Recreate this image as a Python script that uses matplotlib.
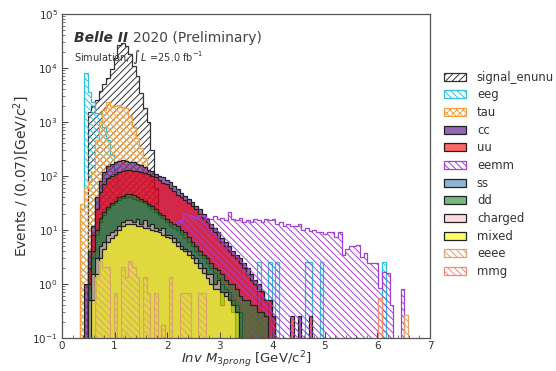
import numpy as np
import matplotlib
matplotlib.use("Agg")
import matplotlib.pyplot as plt
from matplotlib.colors import to_rgba
from matplotlib.ticker import AutoMinorLocator, LogLocator, NullFormatter

# binned 3-prong invariant mass, 100 bins of 0.07 GeV from 0 to 7
bin_width = 0.07
n_bins = 100

signal_start = 7
signal_vals = [1500, 2000, 2600, 3800, 5000, 6500, 9500, 15000, 27000, 29000,
               26000, 18000, 11000, 7000, 3500, 1800, 1000, 300, 60]

eeg_start = 5
eeg_vals = [25, 8000, 3600, 2300, 1450, 1450, 800, 470, 250, 120, 60, 30, 15, 8, 4, 2]
eeg_tail_mass = [3.74, 3.95, 4.09, 4.65, 4.72, 4.93, 6.12]
eeg_tail_w = [2.6, 2.6, 2.6, 2.6, 2.6, 2.6, 2.6]

tau_start = 5
tau_vals = [30, 60, 80, 120, 470, 1000, 1700, 2300, 2000, 2000, 2100, 1900, 1800,
            1300, 800, 500, 330, 220, 120, 60, 30, 12, 5, 2]

cc_start = 6
cc_vals = [1.0, 4, 12, 40, 80, 120, 150, 165, 180, 190, 195, 190, 185, 180, 170,
           160, 145, 130, 125, 110, 100, 95, 85, 78, 65, 58, 48, 42, 38, 33, 28,
           24, 20, 16, 13, 11, 9, 7, 6, 5, 4, 3.5, 3, 2.5, 2, 1.5, 1.2, 1.0, 0.75,
           0.5, 0.5, 0.25]
cc_tail_mass = [4.52]
cc_tail_w = [0.25]

uu_start = 7
uu_vals = [2, 8, 25, 50, 70, 90, 100, 110, 120, 125, 130, 130, 125, 125, 120, 115,
           110, 100, 95, 85, 75, 70, 60, 52, 45, 40, 36, 32, 28, 24, 20, 17, 14, 11,
           9, 7, 6, 5, 4, 3.5, 3, 2.5, 2, 1.5, 1.2, 1.0, 0.75, 0.75, 0.5, 0.5, 0.25]
uu_tail_mass = [4.37, 4.72]
uu_tail_w = [0.25, 0.25]

eemm_start = 20
eemm_vals = [2, 3, 4, 5, 6, 7, 8, 9, 10, 11, 12, 14, 15, 20, 19, 18, 17, 19, 18,
             17, 16, 18, 16, 17, 15, 22, 16, 15, 17, 14, 15, 14, 16, 15, 14, 16, 15,
             16, 13, 14, 12, 13, 12, 12, 13, 10, 11, 9.5, 10, 9, 9, 8.5, 9, 9, 7.5,
             9, 3.5, 4.5, 5, 5, 5.3, 3.2, 3.8, 2.5, 2.5, 2.5, 0.85, 1.7, 1.6, 0.4,
             0, 0, 0.8]

ss_start = 7
ss_vals = [0.8, 3, 8, 14, 19, 24, 29, 32, 36, 39, 41, 40, 38, 36, 34, 32, 28, 25,
           22, 19, 17, 14, 12, 11, 10, 8.5, 7, 6, 5, 4, 3.5, 3, 2.5, 2, 1.6, 1.3,
           1.0, 0.8, 0.7, 0.5, 0.4, 0.3]

dd_start = 7
dd_vals = [1, 4, 10, 17, 22, 27, 32, 35, 40, 42, 46, 47, 45, 40, 38, 35, 30, 28,
           24, 21, 19, 16, 14, 13, 12, 10, 9, 7.5, 6, 5, 4, 3.5, 3, 2.5, 2, 1.8,
           1.5, 1.2, 1.0, 1.0, 0.8, 0.6, 0.5, 0.5, 0.4, 0.4, 0.3, 0.3, 0.25]

charged_start = 7
charged_vals = [0.5, 1.5, 3, 5, 6, 8, 9, 10, 12, 14, 15, 15, 14, 16, 13, 15, 12,
                13, 11, 10, 11, 8, 8, 7, 6, 5, 4.5, 4, 3.5, 3, 2.5, 2, 1.5, 1.5,
                1.0, 1.2, 0.4, 0.7, 0.5, 0.3]

mixed_start = 8
mixed_vals = [0.5, 1.5, 3, 4.5, 6, 7, 8, 10, 12, 13, 13, 13, 12, 12, 11, 11, 10,
              9.5, 9, 8, 7.5, 7, 6, 5, 4.5, 4, 3.5, 3, 2.5, 2, 1.6, 1.3, 1.0, 0.8,
              0.8, 0.7, 0.6, 0.5, 0.4, 0.3]

eeee_start = 9
eeee_vals = [1.36, 2.72, 2.04, 2.04, 0, 0.68, 0, 2.04, 1.36, 2.72, 2.04, 1.36, 0,
             1.36, 0.68, 0, 0.68, 0, 0, 0, 1.36, 0, 0, 0.68, 0.68, 0.68, 0, 0,
             0.68, 0.68]
eeee_tail_mass = [6.55]
eeee_tail_w = [0.27]

mmg_mass = [1.93, 6.05]
mmg_w = [0.17, 0.55]

labels = ["signal_enunu", "eeg", "tau", "cc", "uu", "eemm", "ss", "dd",
          "charged", "mixed", "eeee", "mmg"]


def to_hist(start, vals, tail_mass=(), tail_w=()):
    h = np.zeros(n_bins)
    h[start:start + len(vals)] = vals
    for m, w in zip(tail_mass, tail_w):
        h[int(m / bin_width)] += w
    return h


edges = np.linspace(0, 7, n_bins + 1)
centers = 0.5 * (edges[:-1] + edges[1:])

hists = {
    "signal_enunu": to_hist(signal_start, signal_vals),
    "eeg": to_hist(eeg_start, eeg_vals, eeg_tail_mass, eeg_tail_w),
    "tau": to_hist(tau_start, tau_vals),
    "cc": to_hist(cc_start, cc_vals, cc_tail_mass, cc_tail_w),
    "uu": to_hist(uu_start, uu_vals, uu_tail_mass, uu_tail_w),
    "eemm": to_hist(eemm_start, eemm_vals),
    "ss": to_hist(ss_start, ss_vals),
    "dd": to_hist(dd_start, dd_vals),
    "charged": to_hist(charged_start, charged_vals),
    "mixed": to_hist(mixed_start, mixed_vals),
    "eeee": to_hist(eeee_start, eeee_vals, eeee_tail_mass, eeee_tail_w),
    "mmg": to_hist(0, [], mmg_mass, mmg_w),
}

# hatched samples: (colour, hatch); filled samples: colour drawn at alpha 0.6
hatched = {
    "signal_enunu": ("#333333", "/////"),
    "eeg": ("#2cc3e0", "\\\\\\\\\\"),
    "tau": ("#f0a040", "xxxxx"),
    "eemm": ("#a43fd4", "\\\\\\\\\\"),
    "eeee": ("#dba36e", "\\\\\\\\\\"),
    "mmg": ("#f08a78", "\\\\\\\\\\"),
}
filled = {
    "cc": "indigo",
    "uu": "red",
    "ss": "steelblue",
    "dd": "#1f8a2e",
    "charged": "pink",
    "mixed": "yellow",
}

plt.rcParams["hatch.linewidth"] = 0.7
plt.rcParams["font.family"] = "DejaVu Sans"

fig = plt.figure(figsize=(5.56, 3.71), dpi=100)
ax = fig.add_axes([62 / 556, 1 - 338 / 371, 368 / 556, 324 / 371])
ax.set_yscale("log")

for name in labels:
    h = hists[name]
    if name in hatched:
        col, hatch = hatched[name]
        ax.hist(centers, bins=edges, weights=h, bottom=1e-3, histtype="stepfilled",
                facecolor="none", edgecolor=col, hatch=hatch, linewidth=0.9,
                label=name)
    else:
        ax.hist(centers, bins=edges, weights=h, bottom=1e-3, histtype="stepfilled",
                facecolor=to_rgba(filled[name], 0.6), edgecolor="#222222",
                linewidth=0.9, label=name)

ax.set_xlim(0, 7)
ax.set_ylim(0.1, 1e5)
ax.yaxis.set_major_locator(LogLocator(base=10, numticks=10))
ax.yaxis.set_minor_locator(LogLocator(base=10, subs=np.arange(2, 10), numticks=20))
ax.yaxis.set_minor_formatter(NullFormatter())
ax.xaxis.set_minor_locator(AutoMinorLocator(5))
ax.tick_params(axis="both", which="major", direction="in", length=4, width=0.7,
               labelsize=7.5, colors="#444444", labelcolor="#333333", pad=3)
ax.tick_params(axis="x", which="major", pad=2)
ax.tick_params(axis="both", which="minor", direction="in", length=2, width=0.5,
               colors="#444444")
for sp in ax.spines.values():
    sp.set_color("#555555")
    sp.set_linewidth(0.9)

ax.set_xlabel(r"$Inv\ M_{3prong}$ [GeV/c$^2$]", fontsize=9.5, color="#333333",
              labelpad=-1)
ax.set_ylabel(r"Events / (0.07)[GeV/c$^2$]", fontsize=10, color="#333333",
              labelpad=1)

ax.text(0.032, 0.915, "Belle II", transform=ax.transAxes, fontsize=10,
        fontweight="bold", fontstyle="italic", color="#333333")
ax.text(0.193, 0.915, "2020 (Preliminary)", transform=ax.transAxes, fontsize=10,
        color="#444444")
ax.text(0.032, 0.855, r"Simulation, $\int\,L$ =25.0 fb$^{-1}$",
        transform=ax.transAxes, fontsize=7, color="#333333")

fig.legend(loc="upper left", bbox_to_anchor=(439 / 556, 1 - 66 / 371),
           frameon=False, fontsize=8.4, handlelength=1.95, handleheight=0.68,
           labelspacing=0.4, handletextpad=0.9, borderaxespad=0,
           labelcolor="#333333")

fig.savefig("out.png", dpi=100)
